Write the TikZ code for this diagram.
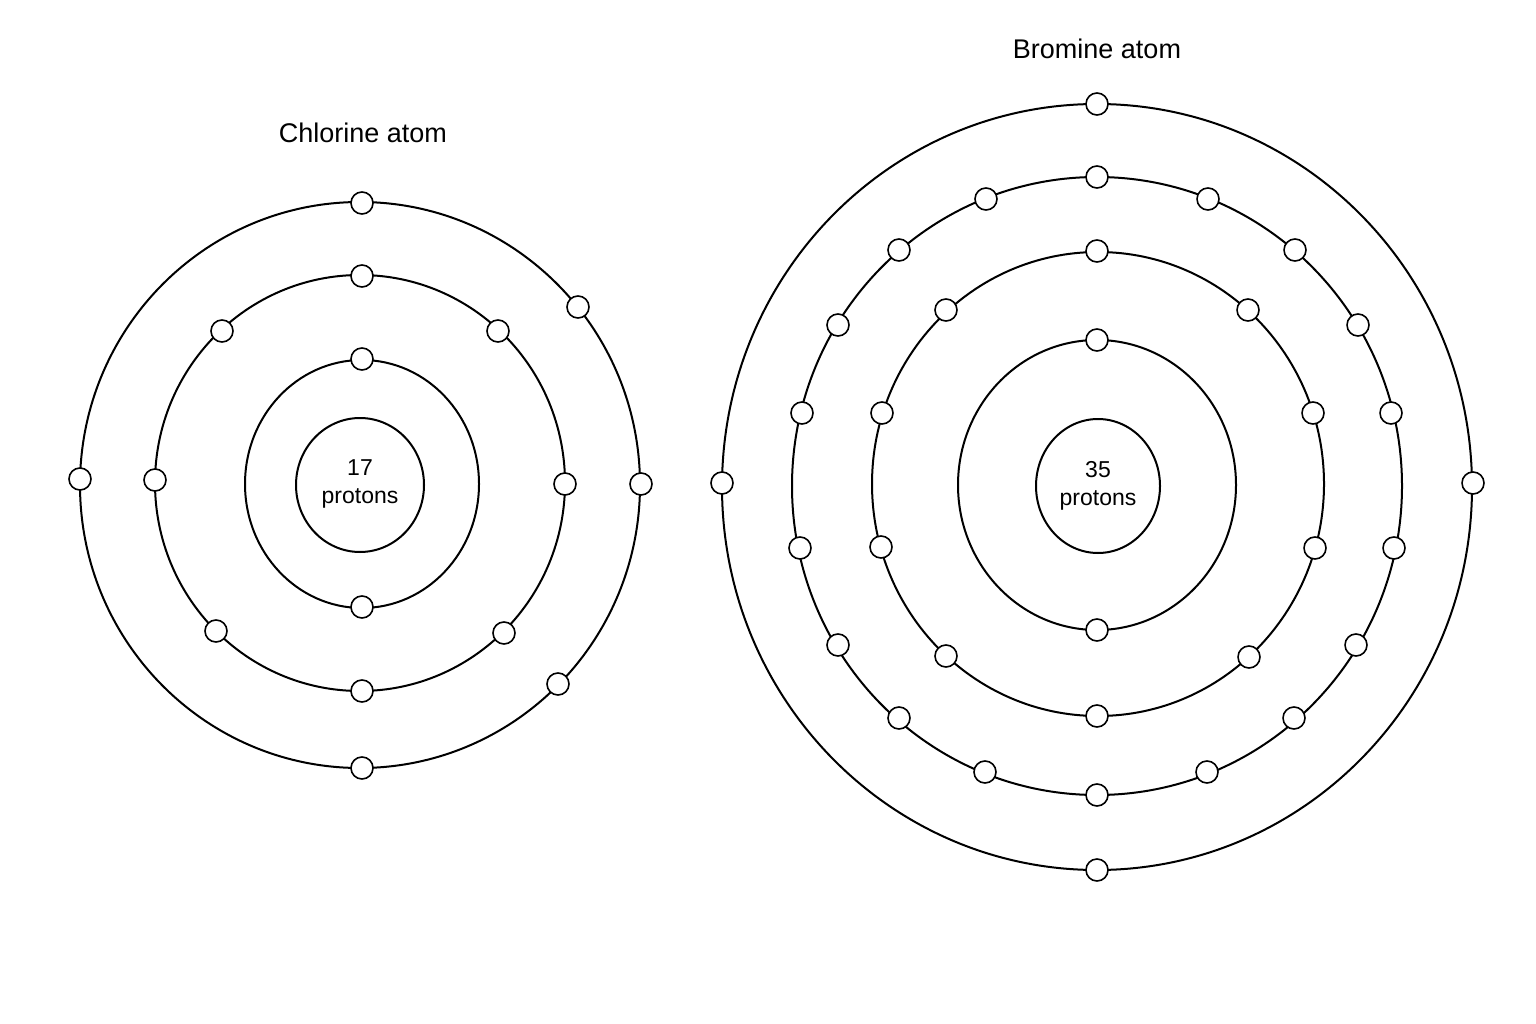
\documentclass[tikz,border=0pt]{standalone}
\usepackage{fontspec}
\setmainfont{Liberation Sans}
\begin{document}
\begin{tikzpicture}[x=1pt,y=-1pt,line width=2pt,
  e/.style={circle,draw,fill=white,line width=1.6pt,minimum size=22pt,inner sep=0pt},
  title/.style={font=\fontsize{27}{30}\selectfont},
  nuc/.style={font=\fontsize{23}{28}\selectfont,align=center}]
\useasboundingbox (0,0) rectangle (1536,1024);
% Chlorine
\draw (360,485) ellipse (64 and 67);
\draw (362,484) ellipse (117 and 124);
\draw (360,483) ellipse (205 and 208);
\draw (360,485) ellipse (280 and 283);
\node[nuc] (cln) at (360,484) {17\\protons};
\node[title] (clt) at (363,133) {Chlorine atom};
\foreach \p [count=\i] in {(362,359),(362,607),
  (362,276),(222,331),(498,331),(155,480),(565,484),(216,631),(504,633),(362,691),
  (362,203),(578,307),(80,479),(641,484),(558,684),(362,768)}
  \node[e] (c\i) at \p {};
% Bromine
\draw (1098,486) ellipse (62 and 67);
\draw (1097,485) ellipse (139 and 145);
\draw (1098,484) ellipse (226 and 232);
\draw (1097,486) ellipse (305 and 309);
\draw (1097,487) ellipse (375 and 383);
\node[nuc] (brn) at (1098,486) {35\\protons};
\node[title] (brt) at (1097,49) {Bromine atom};
\foreach \p [count=\i] in {(1097,340),(1097,630),
  (1097,251),(946,310),(1248,310),(882,413),(1313,413),(881,547),(1315,548),(946,656),(1249,657),(1097,716),
  (1097,177),(986,199),(1208,199),(899,250),(1295,250),(838,325),(1358,325),(802,413),(1391,413),(800,548),(1394,548),(838,645),(1356,645),(899,718),(1294,718),(985,772),(1207,772),(1097,795),
  (1097,104),(722,483),(1473,483),(1097,870)}
  \node[e] (b\i) at \p {};
\end{tikzpicture}
\end{document}
